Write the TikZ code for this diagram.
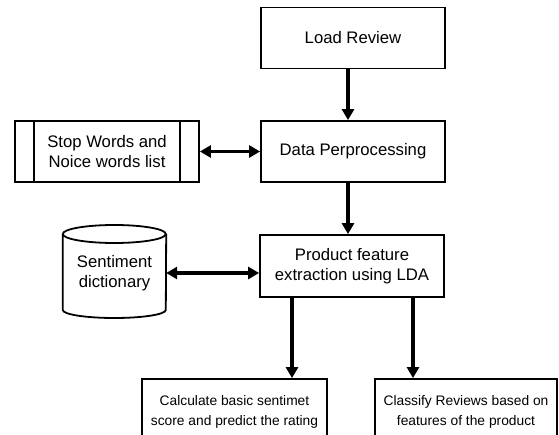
\documentclass[tikz,border=0pt]{standalone}
\usepackage{fontspec}
\setmainfont{Liberation Sans}
\usetikzlibrary{arrows.meta,calc}
\begin{document}
\begin{tikzpicture}[x=1pt,y=-1pt,
  box/.style={draw=black,line width=1.8pt,rectangle,minimum width=184pt,minimum height=61pt,inner sep=0pt,align=center,
    font=\fontsize{16.7}{20}\selectfont},
  smallbox/.style={draw=black,line width=1.8pt,rectangle,minimum width=185pt,minimum height=66pt,inner sep=0pt,align=center,
    font=\fontsize{13.8}{20}\selectfont},
  tip/.tip={Triangle[length=11pt,width=12pt]},
  arr/.style={line width=3.2pt,-tip},
  darr/.style={line width=3.2pt,tip-tip}]
\useasboundingbox (0,0) rectangle (559,435);
\clip (0,0) rectangle (559,435);
\node[box] (load) at (353,38) {Load Review};
\node[box] (data) at (353,151.5) {Data Perprocessing};
\node[box,minimum height=62pt] (prod) at (352,266) {Product feature\\extraction using LDA};
\node[box] (stop) at (107,151.5) {Stop Words and\\Noice words list};
\draw[line width=1.8pt] ([xshift=20pt]stop.north west) -- ([xshift=20pt]stop.south west);
\draw[line width=1.8pt] ([xshift=-20pt]stop.north east) -- ([xshift=-20pt]stop.south east);
\node[minimum width=103pt,minimum height=93pt,inner sep=0pt,align=center,font=\fontsize{16.7}{20}\selectfont] (dict) at (114.5,273) {Sentiment\\dictionary};
\draw[line width=1.8pt] (dict.west |- 0,234) arc[start angle=180,end angle=-180,x radius=51.5pt,y radius=9pt];
\draw[line width=1.8pt] (dict.west |- 0,234) -- (dict.west |- 0,310) arc[start angle=180,end angle=360,x radius=51.5pt,y radius=8pt] -- (dict.east |- 0,234);
\node[smallbox] (calc) at (234.5,412) {Calculate basic sentimet\\score and predict the rating};
\node[smallbox,minimum width=182pt] (cls) at (466,412) {Classify Reviews based on\\features of the product};
\draw[arr] ([xshift=-5pt]load.south) -- ([xshift=-5pt]data.north);
\draw[arr] ([xshift=-5pt]data.south) -- ([xshift=-4pt]prod.north);
\draw[darr] (stop.east) -- (data.west);
\draw[darr] (dict.east) -- (dict.east -| prod.west);
\draw[arr] ([xshift=-60pt]prod.south) -- ([xshift=-60pt]prod.south |- calc.north);
\draw[arr] ([xshift=61pt]prod.south) -- ([xshift=61pt]prod.south |- cls.north);
\end{tikzpicture}
\end{document}
